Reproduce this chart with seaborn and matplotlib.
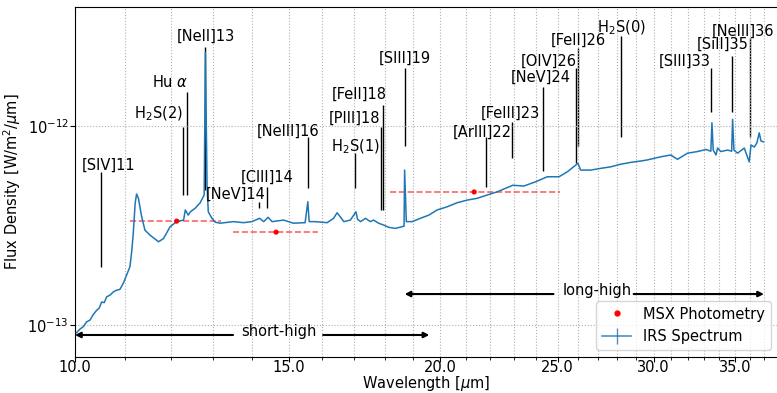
import matplotlib
matplotlib.use('Agg')
import matplotlib.pyplot as plt
from matplotlib.ticker import (FixedLocator, FormatStrFormatter, MultipleLocator,
                               NullFormatter, NullLocator)
from matplotlib.lines import Line2D
import seaborn as sns
import numpy as np
import pandas as pd

plt.rcParams['font.size'] = 10.5

# IRS spectrum, wavelength in micron, flux in 1e-13 W/m^2/um
wavelength = [10.03, 10.10, 10.16, 10.22, 10.29, 10.35, 10.42, 10.47, 10.52, 10.57,
              10.62, 10.69, 10.76, 10.82, 10.89, 10.96, 11.03, 11.10, 11.14, 11.17,
              11.21, 11.24, 11.28, 11.35, 11.42, 11.53, 11.72, 11.83, 11.98, 12.13,
              12.29, 12.33, 12.40, 12.45, 12.56, 12.68, 12.78, 12.81, 12.85, 12.88,
              12.97, 13.05, 13.17, 13.51, 13.77, 13.99, 14.20, 14.31, 14.43, 14.54,
              14.86, 15.14, 15.48, 15.56, 15.60, 15.78, 16.14, 16.34, 16.45, 16.55,
              16.66, 16.87, 17.05, 17.10, 17.20, 17.36, 17.52, 17.63, 17.80, 17.97,
              18.14, 18.37, 18.61, 18.68, 18.70, 18.76, 18.97, 19.27, 19.58, 19.89,
              20.27, 20.66, 21.06, 21.47, 21.88, 22.30, 22.97, 23.45, 23.99, 24.52,
              25.07, 25.47, 25.99, 26.12, 26.63, 27.14, 27.66, 28.18, 28.73, 29.30,
              29.65, 30.41, 31.00, 31.40, 32.00, 32.61, 33.14, 33.45, 33.52, 33.60,
              33.78, 33.88, 34.09, 34.53, 34.80, 34.86, 34.95, 35.19, 35.64, 35.98,
              36.10, 36.33, 36.51, 36.67, 36.79, 36.97]
flux = [0.918, 0.96, 0.984, 1.04, 1.063, 1.13, 1.19, 1.22, 1.31, 1.30,
        1.39, 1.42, 1.475, 1.50, 1.516, 1.626, 1.79, 1.97, 2.39, 2.90,
        4.10, 4.57, 4.35, 3.51, 3.01, 2.84, 2.63, 2.73, 3.13, 3.32,
        3.38, 3.80, 3.58, 3.72, 3.87, 4.12, 4.52, 23.6, 5.06, 3.72,
        3.45, 3.30, 3.26, 3.32, 3.28, 3.32, 3.45, 3.32, 3.49, 3.32,
        3.38, 3.26, 3.28, 4.18, 3.32, 3.32, 3.28, 3.45, 3.68, 3.51,
        3.32, 3.38, 3.72, 3.41, 3.32, 3.45, 3.32, 3.38, 3.26, 3.19,
        3.11, 3.07, 3.13, 3.15, 6.03, 3.32, 3.32, 3.45, 3.58, 3.80,
        3.94, 4.13, 4.26, 4.35, 4.52, 4.69, 5.06, 5.01, 5.27, 5.58,
        5.58, 5.91, 6.52, 6.03, 6.03, 6.15, 6.26, 6.45, 6.59, 6.70,
        6.78, 7.03, 7.18, 6.83, 7.33, 7.47, 7.65, 7.50, 10.42, 7.60,
        7.18, 7.78, 7.47, 7.60, 7.50, 10.85, 7.60, 7.33, 7.78, 6.63,
        8.06, 7.87, 8.27, 9.28, 8.44, 8.36]

# MSX photometry (bands C, D, E)
msx_wave = [12.13, 14.65, 21.34]
msx_flux = [3.34, 2.94, 4.68]
msx_band_lo = [11.1, 13.5, 18.2]
msx_band_hi = [13.2, 15.87, 25.1]

# line identifications
line_names = ['[SIV]11', 'H$_2$S(2)', 'Hu $\\alpha$', '[NeII]13', '[NeV]14', '[ClII]14',
              '[NeIII]16', 'H$_2$S(1)', '[PIII]18', '[FeII]18', '[SIII]19', '[ArIII]22',
              '[FeIII]23', '[NeV]24', '[OIV]26', '[FeII]26', 'H$_2$S(0)', '[SIII]33',
              '[SiII]35', '[NeIII]36']
line_wave = [10.51, 12.28, 12.37, 12.81, 14.19, 14.40, 15.56, 17.03, 17.89, 17.94,
             18.71, 21.83, 22.93, 24.32, 25.89, 25.99, 28.22, 33.48, 34.82, 36.01]
line_top = [5.89, 9.92, 14.87, 25.0, 4.17, 4.96, 8.84, 7.34, 9.92, 12.79,
            19.63, 8.84, 10.51, 15.76, 19.63, 24.75, 28.43, 19.63, 22.56, 27.78]
line_bottom = [1.96, 4.52, 4.52, 4.79, 3.89, 3.89, 4.90, 4.90, 3.80, 3.80,
               7.96, 4.96, 6.93, 5.96, 6.54, 7.96, 8.84, 11.80, 11.80, 8.84]
label_x = [10.65, 11.71, 11.98, 12.81, 13.58, 14.40, 14.99, 17.03, 17.00, 17.16,
           18.71, 21.68, 22.87, 24.21, 24.58, 26.03, 28.24, 31.84, 34.21, 35.54]
label_y = [6.39, 11.53, 16.80, 28.43, 4.57, 5.56, 9.47, 7.87, 11.01, 14.53,
           22.04, 9.36, 11.67, 17.69, 21.29, 27.15, 31.19, 21.29, 25.92, 30.12]

scale = 1e-13
blue = '#1f77b4'

fig = plt.figure(figsize=(7.77, 3.93), dpi=100)
ax = fig.add_axes([75 / 777, 36 / 393, 703 / 777, 350 / 393])

spec = pd.DataFrame({'wl': wavelength, 'flux': np.array(flux) * scale})
sns.lineplot(data=spec, x='wl', y='flux', ax=ax, estimator=None, sort=False,
             color=blue, lw=1.1, zorder=3)

ax.hlines(np.array(msx_flux) * scale, msx_band_lo, msx_band_hi, colors='red',
          linestyles='--', alpha=0.6, lw=1.2, zorder=2)
sns.scatterplot(x=msx_wave, y=np.array(msx_flux) * scale, ax=ax, color='red',
                s=14, edgecolor='none', zorder=4)

for name, w, top, bot, tx, ty in zip(line_names, line_wave, line_top, line_bottom,
                                     label_x, label_y):
    ax.vlines(w, bot * scale, top * scale, color='k', lw=1, zorder=1)
    ax.text(tx, ty * scale, name, ha='center', va='center')

# module coverage arrows
arrow = dict(arrowstyle='-|>', color='k', lw=1.5, shrinkA=0, shrinkB=0, mutation_scale=8)
ax.annotate('', xy=(10.0, 0.894 * scale), xytext=(13.5, 0.894 * scale), arrowprops=arrow)
ax.annotate('', xy=(19.6, 0.894 * scale), xytext=(16.02, 0.894 * scale), arrowprops=arrow)
ax.text(14.74, 0.936 * scale, 'short-high', ha='center', va='center')
ax.annotate('', xy=(18.7, 1.436 * scale), xytext=(24.81, 1.436 * scale), arrowprops=arrow)
ax.annotate('', xy=(37.0, 1.436 * scale), xytext=(28.89, 1.436 * scale), arrowprops=arrow)
ax.text(26.98, 1.504 * scale, 'long-high', ha='center', va='center')

ax.set_xscale('log')
ax.set_yscale('log')
ax.set_xlim(10, 38)
ax.set_ylim(0.693 * scale, 39.8 * scale)
ax.xaxis.set_major_locator(FixedLocator([10, 15, 20, 25, 30, 35]))
ax.xaxis.set_major_formatter(FormatStrFormatter('%.1f'))
ax.xaxis.set_minor_locator(MultipleLocator(1))
ax.xaxis.set_minor_formatter(NullFormatter())
ax.yaxis.set_major_locator(FixedLocator([1e-13, 1e-12]))
ax.yaxis.set_minor_locator(NullLocator())
ax.tick_params(axis='y', which='major', pad=1)
ax.tick_params(axis='x', which='major', pad=-1)

ax.grid(True, which='both', axis='x', ls=':', color='#b0b0b0', lw=0.8)
ax.grid(True, which='major', axis='y', ls=':', color='#b0b0b0', lw=0.8)

ax.set_xlabel('Wavelength [$\\mu$m]', labelpad=-1)
ax.set_ylabel('Flux Density [W/m$^2$/$\\mu$m]', labelpad=3)

handles = [Line2D([], [], color='red', marker='o', ls='none', markersize=3.5,
                  label='MSX Photometry'),
           Line2D([], [], color=blue, marker='|', markersize=11, lw=1.2, alpha=0.8,
                  label='IRS Spectrum')]
ax.legend(handles=handles, loc='lower right')

fig.savefig('out.png', dpi=100)
